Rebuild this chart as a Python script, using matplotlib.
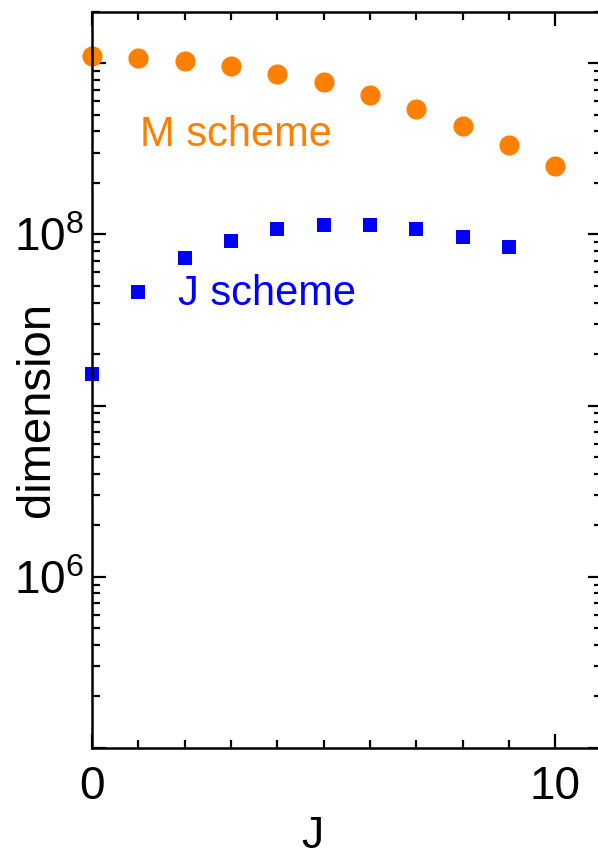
import matplotlib.pyplot as plt
from matplotlib.ticker import LogLocator, FixedLocator, NullFormatter

plt.rcParams['font.family'] = ['Liberation Sans', 'DejaVu Sans']
plt.rcParams['mathtext.fontset'] = 'custom'
plt.rcParams['mathtext.rm'] = 'Liberation Sans'
plt.rcParams['mathtext.it'] = 'Liberation Sans'

J_m = [0, 1, 2, 3, 4, 5, 6, 7, 8, 9, 10]
dim_m = [1.1e9, 1.07e9, 1.03e9, 9.6e8, 8.6e8, 7.8e8, 6.5e8, 5.4e8, 4.3e8, 3.35e8, 2.5e8]

J_j = [0, 1, 2, 3, 4, 5, 6, 7, 8, 9]
dim_j = [1.53e7, 4.6e7, 7.25e7, 9.2e7, 1.07e8, 1.14e8, 1.14e8, 1.07e8, 9.7e7, 8.4e7]

W, H = 598, 858
fig = plt.figure(figsize=(W / 100, H / 100), dpi=100)
left, right, top, bottom = 92, 601.5, 11.7, 748
ax = fig.add_axes([left / W, 1 - bottom / H, (right - left) / W, (bottom - top) / H])

ax.plot(J_m, dim_m, 'o', color='#FF8000', markersize=14.5, markeredgewidth=0, clip_on=False)
ax.plot(J_j, dim_j, 's', color='#0000FF', markersize=9.5, markeredgewidth=0, clip_on=False)

ax.set_yscale('log')
ax.set_xlim(0, 11)
ax.set_ylim(1e5, 2e9)

ax.xaxis.set_major_locator(FixedLocator([0, 10]))
ax.xaxis.set_minor_locator(FixedLocator([1, 2, 3, 4, 5, 6, 7, 8, 9]))
ax.set_xticklabels(['0', '10'])
ax.yaxis.set_major_locator(FixedLocator([1e5, 1e6, 1e7, 1e8, 1e9]))
ax.set_yticklabels(['', r'$10^{6}$', '', r'$10^{8}$', ''])
ax.yaxis.set_minor_locator(LogLocator(base=10, subs=range(2, 10), numticks=20))
ax.yaxis.set_minor_formatter(NullFormatter())

ax.tick_params(which='both', direction='in', top=True, right=True, width=1.6, labelsize=33)
ax.tick_params(which='major', length=10)
ax.tick_params(which='minor', length=5.5)
ax.tick_params(axis='x', pad=12)
ax.tick_params(axis='y', pad=6)
for s in ax.spines.values():
    s.set_linewidth(1.8)

ax.text(140 / W, 1 - 146 / H, 'M scheme', transform=fig.transFigure, color='#FF8000',
        fontsize=30, ha='left', va='baseline')
ax.text(178 / W, 1 - 305 / H, 'J scheme', transform=fig.transFigure, color='#0000FF',
        fontsize=30, ha='left', va='baseline')

fig.text(312 / W, 1.5 / H, 'J', fontsize=32, ha='center', va='bottom')
fig.text(37 / W, 1 - 409 / H, 'dimension', fontsize=34, ha='center', va='center', rotation=90)

fig.savefig('out.png', dpi=100)
